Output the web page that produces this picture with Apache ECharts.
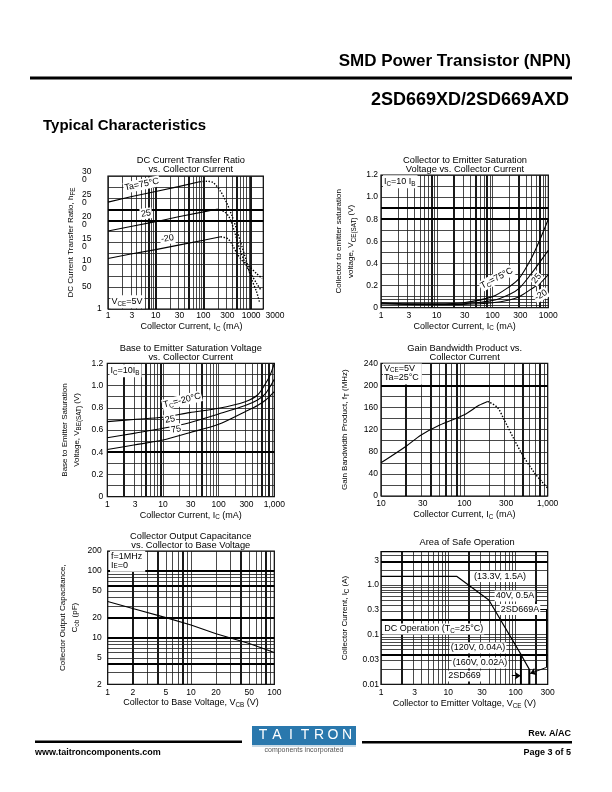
<!DOCTYPE html>
<html>
<head>
<meta charset="utf-8">
<title>2SD669XD/2SD669AXD Typical Characteristics</title>
<script src="https://cdn.jsdelivr.net/npm/echarts@6.0.0/dist/echarts.min.js"></script>
<style>
html,body{margin:0;padding:0;background:#fff;}
#main{width:612px;height:792px;}
</style>
</head>
<body>
<div id="main"></div>
<script>
// ================= DATA =================
// Chart 1: DC Current Transfer Ratio vs Collector Current  [IC (mA), hFE]
const hfe75Solid   = [[1,241],[3,253],[10,265],[30,276],[83,287]];
const hfe75Dotted  = [[83,287],[120,288],[160,285],[220,268],[300,242],[390,212],[490,182],[630,144],[800,107],[1010,69],[1300,39],[1520,13]];
const hfe25Solid   = [[1,176],[3,186],[10,197],[30,208],[100,219],[190,225]];
const hfe25Dotted  = [[190,225],[280,219],[355,205],[450,174],[570,137],[730,107],[930,84],[1300,58],[1640,41]];
const hfeM20Solid  = [[1,114],[3,124],[10,134],[30,144],[100,155],[230,163]];
const hfeM20Dotted = [[230,163],[330,158],[420,141],[530,122],[675,107],[930,95],[1300,80],[1700,69]];
const hfeXTicks    = [1,3,10,30,100,300,1000,3000];
const hfeXTickText = ['1','3','10','30','100','300','1000','3000'];
const hfeYTicks    = [0,50,100,150,200,250,300];
const hfeYTickText = ['1','50','10\n0','15\n0','20\n0','25\n0','30\n0'];

// Chart 2: VCE(sat) vs IC  [IC (mA), V]
const vce75  = [[1,0.045],[3,0.036],[10,0.035],[30,0.045],[100,0.1],[200,0.19],[300,0.265],[500,0.45],[700,0.61],[1000,0.8]];
const vce25  = [[1,0.04],[3,0.032],[10,0.03],[30,0.036],[100,0.065],[200,0.12],[300,0.175],[500,0.31],[700,0.41],[1000,0.52]];
const vceM20 = [[1,0.035],[3,0.029],[10,0.027],[30,0.03],[100,0.045],[200,0.07],[300,0.1],[500,0.17],[700,0.22],[1000,0.3]];
const vceXTicks    = [1,3,10,30,100,300,1000];
const vceXTickText = ['1','3','10','30','100','300','1000'];
const vceYTicks    = [0,0.2,0.4,0.6,0.8,1.0,1.2];
const vceYTickText = ['0','0.2','0.4','0.6','0.8','1.0','1.2'];

// Chart 3: VBE(sat) vs IC  [IC (mA), V]
const vbeM20 = [[1,0.675],[3,0.695],[10,0.714],[30,0.756],[100,0.795],[300,0.855],[500,0.915],[700,1.02],[850,1.1],[1000,1.2]];
const vbe25  = [[1,0.53],[3,0.57],[10,0.615],[30,0.666],[100,0.744],[300,0.82],[500,0.87],[700,0.93],[1000,1.056]];
const vbe75  = [[1,0.425],[3,0.465],[10,0.51],[30,0.576],[100,0.651],[300,0.765],[500,0.82],[700,0.87],[1000,0.945]];
const vbeXTicks    = [1,3,10,30,100,300,1000];
const vbeXTickText = ['1','3','10','30','100','300','1,000'];
const vbeYTicks    = [0,0.2,0.4,0.6,0.8,1.0,1.2];
const vbeYTickText = ['0','0.2','0.4','0.6','0.8','1.0','1.2'];

// Chart 4: Gain bandwidth product vs IC  [IC (mA), fT (MHz)]
const ftSolid  = [[10,60],[20,90],[30,110],[50,128],[100,147],[150,164],[190,171]];
const ftDotted = [[190,171],[250,160],[300,138],[400,101],[500,74],[700,41],[850,26],[1000,14]];
const ftXTicks    = [10,30,100,300,1000];
const ftXTickText = ['10','30','100','300','1,000'];
const ftYTicks    = [0,40,80,120,160,200,240];
const ftYTickText = ['0','40','80','120','160','200','240'];

// Chart 5: Collector output capacitance vs VCB  [VCB (V), Cob (pF)]
const cob = [[1,35],[2,27.5],[5,20],[10,15.5],[20,11.5],[50,8.2],[100,6]];
const cobXTicks    = [1,2,5,10,20,50,100];
const cobXTickText = ['1','2','5','10','20','50','100'];
const cobYTicks    = [2,5,10,20,50,100,200];
const cobYTickText = ['2','5','10','20','50','100','200'];

// Chart 6: Area of safe operation  [VCE (V), IC (A)]
const soa2SD669A = [[1,1.5],[13.3,1.5],[40,0.5],[120,0.04],[160,0.02],[160,0.01]];
const soa2SD669A_limit = [[160,0.02],[160,0.01]];
const soa2SD669_limit  = [[120,0.04],[120,0.01]];
const soaXTicks    = [1,3,10,30,100,300];
const soaXTickText = ['1','3','10','30','100','300'];
const soaYTicks    = [0.01,0.03,0.1,0.3,1,3];
const soaYTickText = ['0.01','0.03','0.1','0.3','1.0','3'];

// ================= HELPERS =================
const FONT = '"Liberation Sans", Arial, Helvetica, sans-serif';
const SQ10 = Math.sqrt(10);
const SUB_E = { s: { fontFamily: FONT, fontSize: 6.3, lineHeight: 6, verticalAlign: 'bottom', color: '#000' } };
const SUB_Z = { s: { fontFamily: FONT, fontSize: 6.3, lineHeight: 6, verticalAlign: 'bottom', fill: '#000' } };

function logSteps(lo, hi) {
  const out = [];
  let p = Math.pow(10, Math.floor(Math.log10(lo) + 1e-9));
  while (p <= hi * 1.0001) {
    for (let k = 1; k < 10; k++) {
      const v = Number((k * p).toPrecision(6));
      if (v >= lo * 0.9999 && v <= hi * 1.0001) out.push(v);
    }
    p *= 10;
  }
  return out;
}
function linSteps(lo, hi, step) {
  const out = [];
  const n = Math.round((hi - lo) / step);
  for (let i = 0; i <= n; i++) out.push(Number((lo + i * step).toFixed(6)));
  return out;
}
function nearestLabel(vals, texts) {
  return function (v) {
    let best = '', bd = 0.05;
    for (let i = 0; i < vals.length; i++) {
      const d = Math.abs(Math.log10(vals[i]) - Math.log10(v));
      if (d < bd) { bd = d; best = texts[i]; }
    }
    return best;
  };
}
function exactLabel(vals, texts) {
  return function (v) {
    for (let i = 0; i < vals.length; i++) if (Math.abs(vals[i] - v) < 1e-6) return texts[i];
    return '';
  };
}
const LBL = (extra) => Object.assign({ show: true, fontFamily: FONT, fontSize: 8.5, color: '#000', margin: 3,
  showMinLabel: true, showMaxLabel: true }, extra || {});
const NAME = (size, lh) => ({ fontFamily: FONT, fontSize: size, color: '#000', lineHeight: lh, rich: SUB_E });
function axis(o) {
  return Object.assign({
    axisLine: { show: false, onZero: false }, axisTick: { show: false },
    splitLine: { show: false }, minorTick: { show: false }, minorSplitLine: { show: false },
    axisLabel: { show: false }, nameLocation: 'middle'
  }, o);
}
const THIN = { color: '#1a1a1a', width: 0.8, type: 'solid', opacity: 1 };
const THICK = { color: '#000', width: 1.8, type: 'solid', opacity: 1 };
function gridSeries(idx, xs, ys, xr, yr, thickX, thickY) {
  const data = [];
  xs.forEach(x => data.push([{ coord: [x, yr[0]], lineStyle: thickX.indexOf(x) >= 0 ? THICK : THIN }, { coord: [x, yr[1]] }]));
  ys.forEach(y => data.push([{ coord: [xr[0], y], lineStyle: thickY.indexOf(y) >= 0 ? THICK : THIN }, { coord: [xr[1], y] }]));
  return { type: 'line', xAxisIndex: idx, yAxisIndex: idx, data: [], silent: true, z: 1,
    markLine: { silent: true, animation: false, symbol: ['none', 'none'], label: { show: false },
      emphasis: { disabled: true }, lineStyle: THIN, data: data } };
}
function curve(idx, data, dotted, smooth, width) {
  return { type: 'line', xAxisIndex: idx, yAxisIndex: idx, data: data, symbol: 'none', showSymbol: false,
    smooth: smooth || false, silent: true, z: 5, emphasis: { disabled: true },
    lineStyle: { color: '#000', width: width || 1.1, type: dotted ? [1.4, 1.6] : 'solid', cap: 'butt' } };
}
function gtext(x, y, text, o) {
  o = o || {};
  const style = { text: text, fontFamily: FONT, fontSize: o.size || 9, fontWeight: o.bold ? 'bold' : 'normal',
    fill: o.fill || '#000', align: o.align || 'center', verticalAlign: 'middle', lineHeight: o.lh || 11, rich: SUB_Z };
  if (o.bg) { style.backgroundColor = '#fff'; style.padding = o.pad || [0, 1]; }
  return { type: 'text', x: x, y: y, rotation: (o.rot || 0) * Math.PI / 180, z: 100, silent: true, style: style };
}

// ================= LAYOUT =================
const G = [
  { left: 108,   top: 176,   width: 155.3, height: 133 },   // 0 hFE (x 1..1800)
  { left: 381,   top: 175,   width: 167.3, height: 132.7 }, // 1 VCE(sat)
  { left: 107.3, top: 363.3, width: 167,   height: 133.4 }, // 2 VBE(sat)
  { left: 381,   top: 363.3, width: 166.7, height: 132.7 }, // 3 fT
  { left: 107.7, top: 551,   width: 166.6, height: 133.3 }, // 4 Cob
  { left: 381,   top: 551.7, width: 166.7, height: 132.6 }, // 5 SOA
  { left: 108,   top: 176,   width: 167,   height: 133 }    // 6 hFE label axis (x 1..10^3.5)
];
const grids = G.map((g, i) => Object.assign({ show: i !== 6, borderColor: '#000', borderWidth: 1.2,
  backgroundColor: 'transparent', containLabel: false, outerBoundsMode: 'none' }, g));

const xAxes = [
  axis({ type: 'log', gridIndex: 0, logBase: SQ10, min: 1, max: 1800 }),
  axis({ type: 'log', gridIndex: 1, logBase: SQ10, min: 1, max: 1000,
    axisLabel: LBL({ formatter: nearestLabel(vceXTicks, vceXTickText) }),
    name: 'Collector Current, I{s|C} (mA)', nameGap: 11, nameTextStyle: NAME(9, 11) }),
  axis({ type: 'log', gridIndex: 2, logBase: SQ10, min: 1, max: 1000,
    axisLabel: LBL({ formatter: nearestLabel(vbeXTicks, vbeXTickText) }),
    name: 'Collector Current, I{s|C} (mA)', nameGap: 12, nameTextStyle: NAME(9, 11) }),
  axis({ type: 'log', gridIndex: 3, logBase: SQ10, min: 10, max: 1000,
    axisLabel: LBL({ margin: 3.5, formatter: nearestLabel(ftXTicks, ftXTickText) }),
    name: 'Collector Current, I{s|C} (mA)', nameGap: 12, nameTextStyle: NAME(9, 11) }),
  axis({ type: 'log', gridIndex: 4, logBase: 10, min: 1, max: 100,
    name: 'Collector to Base Voltage, V{s|CB} (V)', nameGap: 13, nameTextStyle: NAME(9, 11) }),
  axis({ type: 'log', gridIndex: 5, logBase: SQ10, min: 1, max: 300,
    axisLabel: LBL({ margin: 4, formatter: nearestLabel(soaXTicks, soaXTickText) }),
    name: 'Collector to Emitter Voltage, V{s|CE} (V)', nameGap: 13, nameTextStyle: NAME(9, 11) }),
  axis({ type: 'log', gridIndex: 6, logBase: SQ10, min: 1, max: Math.pow(10, 3.5),
    axisLabel: LBL({ margin: 2, formatter: nearestLabel(hfeXTicks, hfeXTickText) }),
    name: 'Collector Current, I{s|C} (mA)', nameGap: 10.5, nameTextStyle: NAME(9, 11) })
];

const hfeYFmt = exactLabel(hfeYTicks, hfeYTickText);
const yAxes = [
  axis({ type: 'value', gridIndex: 0, min: 0, max: 300, interval: 50,
    axisLabel: LBL({ align: 'left', margin: 26, lineHeight: 8,
      formatter: v => (Math.abs(v) < 1e-9 ? '{p|' + hfeYFmt(v) + '}' : hfeYFmt(v)),
      rich: { p: { padding: [0, 0, 0, 15], fontFamily: FONT, fontSize: 8.5, color: '#000' } } }),
    name: 'DC Current Transfer Ratio, h{s|FE}', nameGap: 32, nameTextStyle: NAME(8, 11) }),
  axis({ type: 'value', gridIndex: 1, min: 0, max: 1.2, interval: 0.2,
    axisLabel: LBL({ formatter: exactLabel(vceYTicks, vceYTickText) }),
    name: 'Collector to emitter saturation\nvoltage, V{s|CE(SAT)} (V)', nameGap: 24, nameTextStyle: NAME(8, 12) }),
  axis({ type: 'value', gridIndex: 2, min: 0, max: 1.2, interval: 0.2,
    axisLabel: LBL({ margin: 4, formatter: exactLabel(vbeYTicks, vbeYTickText) }),
    name: 'Base to Emitter Saturation\nVoltage, V{s|BE(SAT)} (V)', nameGap: 25, nameTextStyle: NAME(8, 12) }),
  axis({ type: 'value', gridIndex: 3, min: 0, max: 240, interval: 40,
    axisLabel: LBL({ formatter: exactLabel(ftYTicks, ftYTickText) }),
    name: 'Gain Bandwidth Product, f{s|T} (MHz)', nameGap: 31, nameTextStyle: NAME(8, 11) }),
  axis({ type: 'log', gridIndex: 4, logBase: 10, min: 2, max: 200,
    name: 'Collector Output Capacitance,\nC{s|ob} (pF)', nameGap: 27, nameTextStyle: NAME(8, 12) }),
  axis({ type: 'log', gridIndex: 5, logBase: SQ10, min: 0.01, max: 4.7,
    axisLabel: LBL({ margin: 2, formatter: nearestLabel(soaYTicks, soaYTickText) }),
    name: 'Collector Current, I{s|C} (A)', nameGap: 31, nameTextStyle: NAME(8, 11) }),
  axis({ type: 'value', gridIndex: 6, min: 0, max: 1, show: false })
];

// ================= SERIES =================
const series = [
  gridSeries(0, logSteps(1, 1800), linSteps(0, 300, 25), [1, 1800], [0, 300], [7, 10, 50, 100, 500, 1000], [200, 225]),
  gridSeries(1, logSteps(1, 1000), [0, 0.025, 0.05, 0.075].concat(linSteps(0.1, 1.2, 0.1)), [1, 1000], [0, 1.2], [8, 20, 50, 80, 300, 700], [0.8, 0.9]),
  gridSeries(2, logSteps(1, 1000), linSteps(0, 1.2, 0.1), [1, 1000], [0, 1.2], [2, 5, 9, 50, 600, 800], [0.4]),
  gridSeries(3, logSteps(10, 1000), linSteps(0, 240, 20), [10, 1000], [0, 240], [20, 40, 60, 80, 500, 800], [200]),
  gridSeries(4, logSteps(1, 100), logSteps(2, 200), [1, 100], [2, 200], [2, 4, 8, 40, 80], [4, 10, 20, 60, 100]),
  gridSeries(5, logSteps(1, 300), logSteps(0.01, 4.7), [1, 300], [0.01, 4.7], [2, 20, 200], [0.04, 0.2, 3]),

  curve(0, hfe75Solid), curve(0, hfe75Dotted, true, 0.3, 1.4),
  curve(0, hfe25Solid), curve(0, hfe25Dotted, true, 0.3, 1.4),
  curve(0, hfeM20Solid), curve(0, hfeM20Dotted, true, 0.3, 1.4),

  curve(1, vce75, false, 0.3), curve(1, vce25, false, 0.3), curve(1, vceM20, false, 0.3),

  curve(2, vbeM20, false, 0.3), curve(2, vbe25, false, 0.3), curve(2, vbe75, false, 0.3),

  curve(3, ftSolid, false, 0.3), curve(3, ftDotted, true, 0.3, 1.4),

  curve(4, cob),

  curve(5, soa2SD669A, false, false, 1.2),
  curve(5, soa2SD669A_limit, false, false, 2),
  curve(5, soa2SD669_limit, false, false, 2),

  // Chart 5 tick labels (2,5,20,50 are not powers of ten)
  { type: 'line', xAxisIndex: 4, yAxisIndex: 4, data: [], silent: true, z: 6,
    markLine: { silent: true, animation: false, symbol: ['none', 'none'],
      lineStyle: { color: 'rgba(0,0,0,0)', width: 0.1 },
      label: { show: true, position: 'start', formatter: '{b}', color: '#000', fontFamily: FONT, fontSize: 8.5 },
      emphasis: { disabled: true },
      data: cobXTicks.map((v, i) => [{ coord: [v, 2], name: cobXTickText[i], label: { distance: 4 } }, { coord: [v, 200] }])
        .concat(cobYTicks.map((v, i) => [{ coord: [1, v], name: cobYTickText[i], label: { distance: 6 } }, { coord: [100, v] }])) } },

  // Chart 6 arrows / leader lines
  { type: 'line', xAxisIndex: 5, yAxisIndex: 5, data: [], silent: true, z: 6,
    markLine: { silent: true, animation: false, symbol: ['none', 'arrow'], symbolSize: 6,
      lineStyle: { color: '#000', width: 1, type: 'solid' }, label: { show: false }, emphasis: { disabled: true },
      data: [
        [{ coord: [88, 0.0149] }, { coord: [119, 0.0149] }],
        [{ coord: [230, 0.33], symbol: 'none' }, { coord: [290, 0.33], symbol: 'none' }],
        [{ coord: [290, 0.33], symbol: 'none' }, { coord: [290, 0.022], symbol: 'none' }],
        [{ coord: [290, 0.022] }, { coord: [164, 0.0165] }]
      ] } }
];

// ================= TEXT (page + annotations) =================
const L = [];
// header
L.push(gtext(571, 61, 'SMD Power Transistor (NPN)', { size: 17, bold: true, align: 'right' }));
L.push({ type: 'rect', z: 100, silent: true, shape: { x: 30, y: 76.5, width: 542, height: 3 }, style: { fill: '#000' } });
L.push(gtext(569, 100, '2SD669XD/2SD669AXD', { size: 18, bold: true, align: 'right' }));
L.push(gtext(43, 126, 'Typical Characteristics', { size: 15, bold: true, align: 'left' }));
// chart titles
L.push(gtext(190.8, 164.5, 'DC Current Transfer Ratio\nvs. Collector Current', { size: 9.3, lh: 9 }));
L.push(gtext(465, 164.5, 'Collector to Emitter Saturation\nVoltage vs. Collector Current', { size: 9.3, lh: 9 }));
L.push(gtext(190.8, 352.8, 'Base to Emitter Saturation Voltage\nvs. Collector Current', { size: 9.3, lh: 9 }));
L.push(gtext(464.7, 352.8, 'Gain Bandwidth Product vs.\nCollector Current', { size: 9.3, lh: 9 }));
L.push(gtext(190.8, 541.2, 'Collector Output Capacitance\nvs. Collector to Base Voltage', { size: 9.3, lh: 9 }));
L.push(gtext(467, 542.3, 'Area of Safe Operation', { size: 9.3 }));
// chart 1 annotations
L.push(gtext(141.7, 184.5, 'Ta=75°C', { rot: 12, bg: true }));
L.push(gtext(146, 213.5, '25', { rot: 8, bg: true }));
L.push(gtext(167.5, 238.5, '-20', { rot: 8, bg: true }));
L.push(gtext(110.5, 301.7, 'V{s|CE}=5V', { align: 'left', bg: true, pad: [1, 2, 1, 1] }));
// chart 2 annotations
L.push(gtext(383, 181.7, 'I{s|C}=10 I{s|B}', { align: 'left', bg: true, pad: [1, 2, 1, 1] }));
L.push(gtext(496.7, 278.3, 'T{s|C}=75°C', { rot: 28, bg: true }));
L.push(gtext(536.5, 278.5, '25', { rot: 50, bg: true }));
L.push(gtext(541, 295, '-20', { rot: 30, bg: true }));
// chart 3 annotations
L.push(gtext(109.5, 370.7, 'I{s|C}=10I{s|B}', { align: 'left', bg: true, pad: [1, 2, 1, 1] }));
L.push(gtext(182, 400.5, 'T{s|C}=-20°C', { rot: 14, bg: true }));
L.push(gtext(170, 419.5, '25', { rot: 10, bg: true }));
L.push(gtext(176, 429.5, '75', { rot: 10, bg: true }));
// chart 4 annotation
L.push(gtext(383, 374, 'V{s|CE}=5V\nTa=25°C', { align: 'left', lh: 9, bg: true, pad: [1, 3, 2, 1] }));
// chart 5 annotation
L.push(gtext(110, 561.2, 'f=1MHz\nI{s|E}=0', { align: 'left', lh: 9, bg: true, pad: [1, 3, 2, 1] }));
// chart 6 annotations
L.push(gtext(500, 576.5, '(13.3V, 1.5A)', { bg: true }));
L.push(gtext(515, 596, '40V, 0.5A', { bg: true }));
L.push(gtext(520, 609.5, '2SD669A', { bg: true }));
L.push(gtext(383.3, 629, 'DC Operation (T{s|C}=25°C)', { align: 'left', bg: true }));
L.push(gtext(478, 648, '(120V, 0.04A)', { bg: true }));
L.push(gtext(480, 663, '(160V, 0.02A)', { bg: true }));
L.push(gtext(464.5, 676, '2SD669', { bg: true }));
// footer
L.push({ type: 'rect', z: 100, silent: true, shape: { x: 35, y: 740.5, width: 207, height: 2.5 }, style: { fill: '#000' } });
L.push({ type: 'rect', z: 100, silent: true, shape: { x: 362, y: 741, width: 210, height: 2.5 }, style: { fill: '#000' } });
L.push({ type: 'rect', z: 100, silent: true, shape: { x: 252, y: 726, width: 104, height: 19 }, style: { fill: '#2a78ad' } });
L.push({ type: 'rect', z: 100, silent: true, shape: { x: 252, y: 745.5, width: 104, height: 1 }, style: { fill: '#8fb3cc' } });
'TAITRON'.split('').forEach((ch, i) => L.push(gtext(263 + i * 14, 735.5, ch, { size: 14, fill: '#fff' })));
L.push(gtext(304, 750.5, 'components incorporated', { size: 7, fill: '#555' }));
L.push(gtext(571, 734, 'Rev. A/AC', { size: 9, bold: true, align: 'right' }));
L.push(gtext(35, 753, 'www.taitroncomponents.com', { size: 9, bold: true, align: 'left' }));
L.push(gtext(571, 753, 'Page 3 of 5', { size: 9, bold: true, align: 'right' }));

// ================= RENDER =================
const chart = echarts.init(document.getElementById('main'), null, { renderer: 'canvas', width: 612, height: 792 });
chart.setOption({
  animation: false,
  backgroundColor: '#ffffff',
  textStyle: { fontFamily: FONT },
  grid: grids,
  xAxis: xAxes,
  yAxis: yAxes,
  series: series,
  graphic: { elements: L }
});
</script>
</body>
</html>
